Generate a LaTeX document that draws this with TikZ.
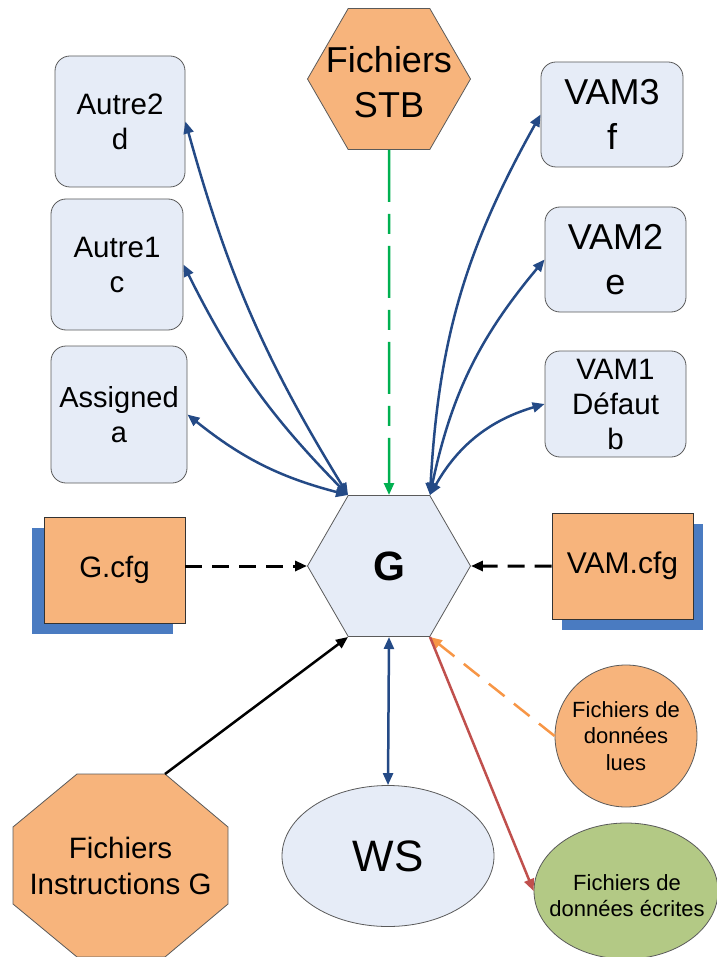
\documentclass[tikz,border=0pt]{standalone}
\usepackage{fontspec}
\setmainfont{Liberation Sans}
\usetikzlibrary{shapes.geometric,arrows.meta,shadows}
\definecolor{boxblue}{HTML}{E6ECF7}
\definecolor{fileorange}{HTML}{F7B47C}
\definecolor{shadowblue}{HTML}{4A7BC1}
\definecolor{linkblue}{HTML}{244A86}
\definecolor{stbgreen}{HTML}{00B050}
\definecolor{luesorange}{HTML}{F79646}
\definecolor{ecrred}{HTML}{C0504D}
\definecolor{ecrgreen}{HTML}{B3C985}
\definecolor{edgegray}{HTML}{5A5A5A}

\begin{document}
\begin{tikzpicture}[x=1pt,y=-1pt,>={Triangle[length=12pt,width=10pt]},
	rbox/.style={draw=edgegray,line width=0.8pt,fill=boxblue,rounded corners=15pt,align=center,inner sep=2pt},
	cfgbox/.style={draw=black!80,line width=0.8pt,fill=fileorange,minimum width=141pt,minimum height=106pt},
	hexa/.style={draw=edgegray,line width=0.8pt,regular polygon,regular polygon sides=6,minimum size=163pt,inner sep=0pt},
	link/.style={linkblue,line width=2.5pt,<->},
	cfgline/.style={black,line width=3pt,dash pattern=on 17pt off 10pt,->}]
	\useasboundingbox (0,0) rectangle (716,957);

	\node[rbox,minimum width=130pt,minimum height=131pt,font=\fontsize{29.5}{35}\selectfont] (autre2) at (120,121.5) {Autre2\\d}; %autre2
	\node[rbox,minimum width=132pt,minimum height=131pt,font=\fontsize{29.5}{35}\selectfont] (autre1) at (117,264.5) {Autre1\\c}; %autre1
	\node[rbox,minimum width=136pt,minimum height=137pt,font=\fontsize{29}{35}\selectfont] (assigned) at (119,414.5) {Assigned\\a}; %assigned
	\node[rbox,minimum width=142pt,minimum height=105pt,font=\fontsize{36}{45}\selectfont] (vam3) at (612,114.5) {VAM3\\f}; %vam3
	\node[rbox,minimum width=141pt,minimum height=105pt,font=\fontsize{36}{45}\selectfont] (vam2) at (615.5,259.5) {VAM2\\e}; %vam2
	\node[rbox,minimum width=141pt,minimum height=106pt,font=\fontsize{29.5}{35}\selectfont] (vam1) at (615.5,404) {VAM1\\Défaut\\b}; %vam1

	\node[cfgbox,drop shadow={shadow xshift=-12pt,shadow yshift=-11pt,fill=shadowblue,opacity=1},font=\fontsize{29.5}{35}\selectfont] (gcfg) at (114.5,570) {G.cfg}; %g.cfg
	\node[cfgbox,drop shadow={shadow xshift=10pt,shadow yshift=-11pt,fill=shadowblue,opacity=1},font=\fontsize{30}{35}\selectfont] (vamcfg) at (622.5,566) {VAM.cfg}; %vam.cfg

	\node[hexa,fill=boxblue,font=\fontsize{41}{45}\selectfont\bfseries] (g) at (389,566) {G}; %G
	\node[hexa,fill=fileorange] (stb) at (389,79) {}; %stb
	\node[align=center,font=\fontsize{36}{45}\selectfont] (stbtext) at (389,82) {Fichiers\\STB};

	\node[ellipse,draw=edgegray,line width=0.8pt,fill=boxblue,minimum width=212pt,minimum height=141pt,font=\fontsize{44}{50}\selectfont] (ws) at (388,856) {WS}; %ws
	\node[circle,draw=edgegray,line width=0.8pt,fill=fileorange,minimum size=142pt,inner sep=0pt] (lues) at (626,736) {}; %lues
	\node[align=center,font=\fontsize{22}{26.5}\selectfont] (luestext) at (626,736) {Fichiers de\\données\\lues};
	\node[ellipse,draw=edgegray,line width=0.8pt,fill=ecrgreen,minimum width=184pt,minimum height=136pt,inner sep=0pt] (ecrites) at (626,891) {}; %ecrites
	\node[align=center,font=\fontsize{22}{26}\selectfont] (ecrtext) at (627,896) {Fichiers de\\données écrites};

	\draw[draw=edgegray,line width=0.8pt,fill=fileorange] (77,774) -- (165,774) -- (228,827) -- (228,904) -- (165,957) -- (77,957) -- (13,904) -- (13,827) -- cycle; %instructions
	\coordinate (octtop) at (165,774);
	\node[align=center,font=\fontsize{29.5}{36}\selectfont] (instr) at (120.5,866) {Fichiers\\Instructions G};

	\draw[link] (g.120) to[bend left=8] (autre2.east);
	\draw[link] (g.120) to[bend left=9] (autre1.east);
	\draw[link] (g.120) to[bend left=12] (assigned.east);
	\draw[link] (g.60) to[bend left=13] (vam3.west);
	\draw[link] (g.60) to[bend left=14] (vam2.west);
	\draw[link] (g.60) to[bend left=22] (vam1.west);
	\draw[link] (g.south) -- (ws.north);

	\draw[stbgreen,line width=2.5pt,dash pattern=on 52pt off 12pt on 20pt off 12pt,->] (stb.south) -- (g.north);
	\draw[cfgline] (gcfg.east |- g.west) -- (g.west);
	\draw[cfgline] (vamcfg.west) -- (g.east);
	\draw[black,line width=2.5pt,->] (octtop) -- (g.240);
	\draw[luesorange,line width=2.5pt,dash pattern=on 20pt off 12pt,->] (lues.west) -- (g.300);
	\draw[ecrred,line width=2.5pt,->] (g.300) -- (ecrites.west);
\end{tikzpicture}
\end{document}
